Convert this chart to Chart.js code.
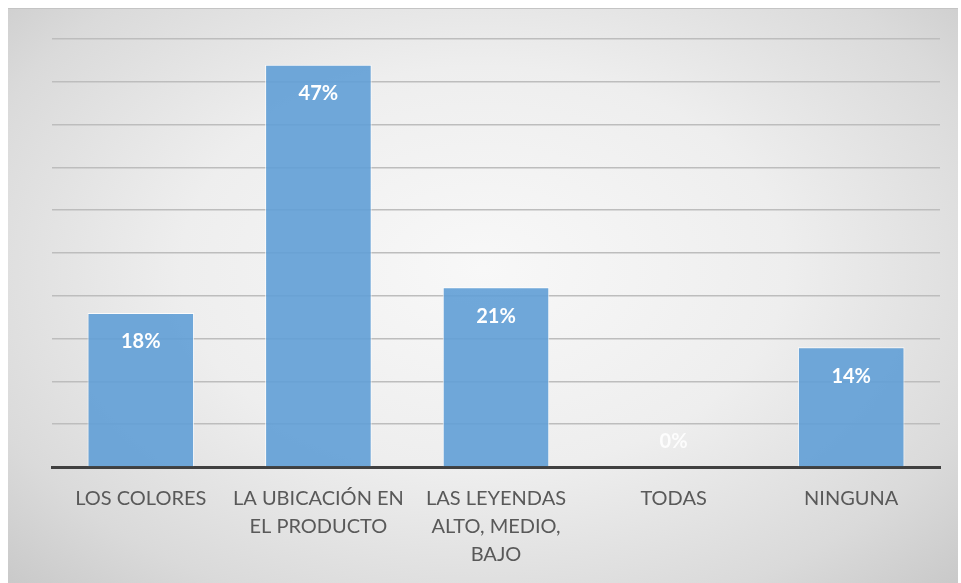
<!DOCTYPE html>
<html>
<head>
<meta charset="utf-8">
<script src="https://cdn.jsdelivr.net/npm/chart.js@4.4.1/dist/chart.umd.min.js"></script>
<style>
    html, body { margin: 0; padding: 0; background: #ffffff; }
    #wrap {
        position: absolute;
        left: 8px;
        top: 8px;
        width: 950px;
        height: 575px;
        border-top: 1px solid #c4c4c4;
        background: radial-gradient(ellipse at 50% 45%, #f8f8f8 0%, #eeeeee 45%, #dadada 80%, #c9c9c9 100%);
    }
</style>
</head>
<body>
<div id="wrap"><canvas id="chart"></canvas></div>
<script>
const categories = [
    ['LOS COLORES'],
    ['LA UBICACIÓN EN', 'EL PRODUCTO'],
    ['LAS LEYENDAS', 'ALTO, MEDIO,', 'BAJO'],
    ['TODAS'],
    ['NINGUNA']
];
const percentages = [18, 47, 21, 0, 14];
const valueLabels = ['18%', '47%', '21%', '0%', '14%'];

// white labels near the top of each bar, above the axis when the bar is empty
const insideLabels = {
    id: 'insideLabels',
    afterDatasetsDraw(chart) {
        const ctx = chart.ctx;
        const meta = chart.getDatasetMeta(0);
        ctx.save();
        ctx.font = 'bold 20px Lato, "Open Sans", sans-serif';
        ctx.textAlign = 'center';
        ctx.textBaseline = 'middle';
        meta.data.forEach((bar, i) => {
            let y = bar.y + 29;
            if (percentages[i] === 0) {
                y = bar.base - 25;
                ctx.fillStyle = 'rgba(255,255,255,0.85)';
            } else {
                ctx.fillStyle = '#ffffff';
            }
            ctx.fillText(valueLabels[i], bar.x, y);
        });
        ctx.restore();
    }
};

let ctx = document.getElementById('chart');

let chart = new Chart(ctx, {
    type: 'bar',
    data: {
        labels: categories,
        datasets: [{
            data: percentages,
            backgroundColor: 'rgba(96, 158, 214, 0.9)',
            borderColor: 'rgba(255, 255, 255, 0.8)',
            borderWidth: 1,
            categoryPercentage: 1,
            barPercentage: 0.6
        }]
    },
    options: {
        responsive: true,
        maintainAspectRatio: false,
        animation: false,
        layout: { padding: { left: 44, right: 18, top: 30, bottom: 0 } },
        plugins: {
            legend: { display: false },
            tooltip: { enabled: false }
        },
        scales: {
            x: {
                grid: { display: false },
                border: { display: true, color: '#404040', width: 3 },
                ticks: {
                    color: '#595959',
                    padding: 10,
                    maxRotation: 0,
                    font: { family: 'Lato, "Open Sans", sans-serif', size: 20, lineHeight: 1.4 }
                },
                afterFit(scale) { scale.height = 117; }
            },
            y: {
                min: 0,
                max: 50,
                ticks: { display: false, stepSize: 5 },
                border: { display: false },
                grid: { color: '#bdbdbd', lineWidth: 1.5, drawTicks: false }
            }
        }
    },
    plugins: [insideLabels]
});
</script>
</body>
</html>
